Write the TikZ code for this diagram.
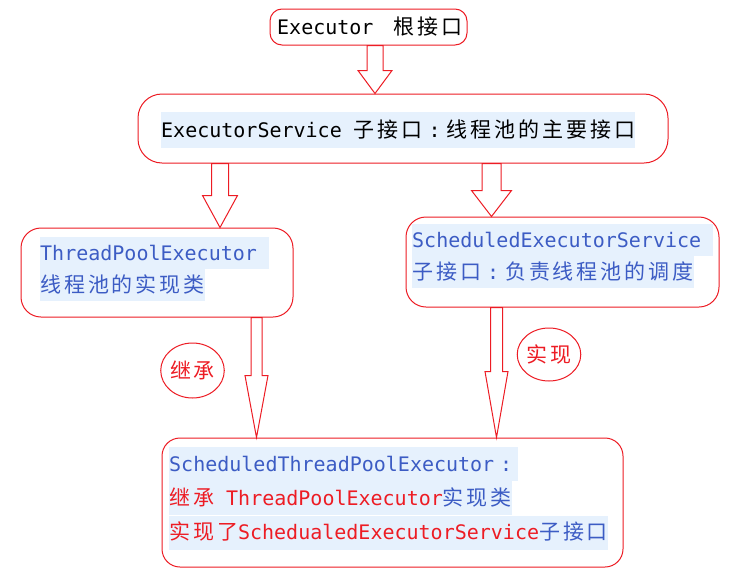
\documentclass[tikz,border=0pt]{standalone}
\usepackage{fontspec}
\setmainfont{DejaVu Sans Mono}
\newfontfamily\zh[LetterSpace=14]{Noto Sans CJK SC}
\usetikzlibrary{shapes.geometric,calc}
\definecolor{boxred}{RGB}{237,28,36}
\definecolor{docblue}{RGB}{60,92,196}
\definecolor{hilite}{RGB}{230,241,253}
\newcommand\zhs[1]{{\zh\fontsize{21}{26}\selectfont#1}}
\newcommand\fwcolon{\makebox[24pt][c]{:}}
% hollow block arrow: from, to, half shaft, half head, head length
\newcommand\hollowarrow[5]{%
  \draw[boxred,line width=1pt] let \p1=(#1), \p2=(#2) in
    (\x2-#3,\y1) -- (\x2-#3,\y2+#5) -- (\x2-#4,\y2+#5) -- (\x2,\y2)
    -- (\x2+#4,\y2+#5) -- (\x2+#3,\y2+#5) -- (\x2+#3,\y1) -- cycle;}
\tikzset{
  box/.style={draw=boxred,line width=1pt,rectangle,inner sep=0pt},
  textline/.style={anchor=west,inner sep=0pt,text height=23pt,text depth=9pt,
    font=\fontsize{20}{24}\selectfont},
  marked/.style={textline,fill=hilite},
  tall/.style={text height=24pt,text depth=10pt},
  tag/.style={draw=boxred,line width=1pt,ellipse,inner sep=0pt,text=boxred}
}
\begin{document}
\begin{tikzpicture}[x=1pt,y=-1pt]
\fill[white] (0,0) rectangle (750,576);
\useasboundingbox (0,0) rectangle (750,576);
% boxes
\node[box,rounded corners=12pt,minimum width=197pt,minimum height=36pt] (exe) at (368.5,27) {};
\node[box,rounded corners=24pt,minimum width=530pt,minimum height=69pt] (svc) at (403,128.5) {};
\node[box,rounded corners=20pt,minimum width=272pt,minimum height=89pt] (tp) at (157,272.5) {};
\node[box,rounded corners=20pt,minimum width=313pt,minimum height=90pt] (sched) at (562.5,262) {};
\node[box,rounded corners=18pt,minimum width=461pt,minimum height=129pt] (bot) at (392.5,502.5) {};
% texts
\node[textline] (exetxt) at (277,27) {Executor\kern20pt\zhs{根接口}};
\node[marked,text height=25pt,text depth=11pt] (svctxt) at (161,130) {ExecutorService \zhs{子接口}\fwcolon\zhs{线程池的主要接口}};
\node[marked,text=docblue] (tp1) at (40,253) {ThreadPoolExecutor\kern12pt};
\node[marked,text=docblue,anchor=north west] (tp2) at (tp1.south west) {\zhs{线程池的实现类}};
\node[marked,text=docblue] (sc1) at (412,240) {ScheduledExecutorService\kern12pt};
\node[marked,text=docblue,anchor=north west] (sc2) at (sc1.south west) {\zhs{子接口}\fwcolon\zhs{负责线程池的调度}};
\node[marked,tall,text=docblue] (bt1) at (169,464) {ScheduledThreadPoolExecutor\fwcolon};
\node[marked,tall,text=docblue,anchor=north west] (bt2) at (bt1.south west) {\textcolor{boxred}{\zhs{继承} ThreadPoolExecutor}\zhs{实现类}};
\node[marked,tall,text=docblue,anchor=north west] (bt3) at (bt2.south west) {\textcolor{boxred}{\zhs{实现了}SchedualedExecutorService}\zhs{子接口}};
\node[tag,minimum width=57pt,minimum height=55pt] (inherit) at (192.5,370.5) {\zhs{继承}};
\node[tag,minimum width=62pt,minimum height=53pt] (impl) at (549,354.5) {\zhs{实现}};
% arrows
\hollowarrow{exe.south}{[xshift=-28pt]svc.north}{8pt}{17pt}{23pt}
\hollowarrow{svc.south}{[xshift=63pt]tp.north}{8.5pt}{17.5pt}{32pt}
\hollowarrow{svc.south}{[xshift=-71pt]sched.north}{9.5pt}{20pt}{26pt}
\hollowarrow{tp.south}{[xshift=-136pt]bot.north}{5.5pt}{11.5pt}{62pt}
\hollowarrow{sched.south}{[xshift=104pt]bot.north}{6pt}{11.5pt}{66pt}
\end{tikzpicture}
\end{document}
